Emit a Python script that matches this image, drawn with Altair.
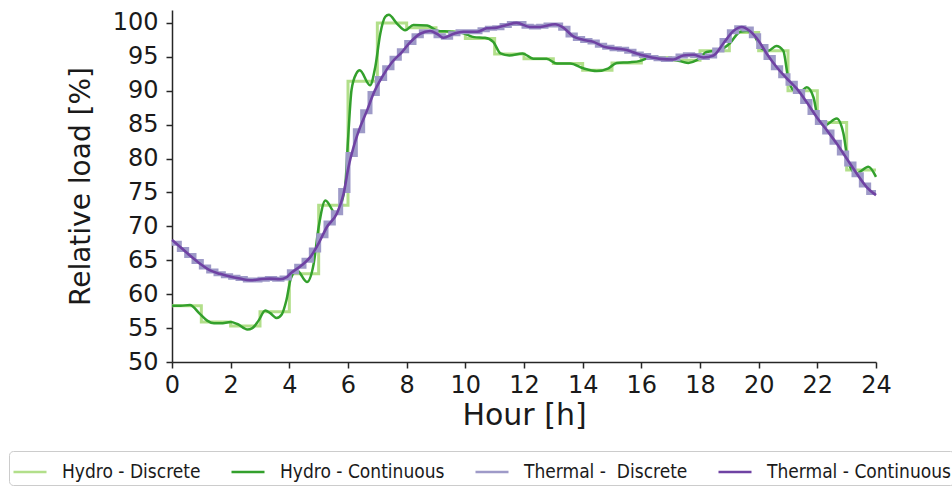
import altair as alt
import pandas as pd

# ---------------- data ----------------
series_names = ["Hydro - Discrete", "Hydro - Continuous", "Thermal -\u00a0 Discrete", "Thermal - Continuous"]
series_colors = ["#b2df8a", "#33a02c", "#9e9ac8", "#6f42a3"]

# hourly discrete hydro load (value held during each hour 0..23)
hydro_hours = list(range(24))
hydro_discrete = [58.3, 55.9, 55.3, 57.4, 63.0, 73.1, 91.4, 100.0, 99.3, 98.7, 97.7, 95.4,
                  94.7, 94.0, 93.0, 94.1, 94.9, 94.5, 95.9, 98.6, 95.9, 90.0, 85.3, 78.3]

# continuous hydro curve, sampled points
hydro_cont_t = [0.0, 0.3, 0.61, 0.95, 1.2, 1.43, 1.66, 2.0, 2.23, 2.57, 2.74, 2.95, 3.18, 3.35,
                3.57, 3.74, 3.9, 4.05, 4.26, 4.6, 4.83, 5.0, 5.23, 5.58, 5.9, 6.0, 6.12, 6.28,
                6.4, 6.75, 6.93, 7.1, 7.27, 7.39, 7.67, 7.95, 8.23, 8.7, 9.07, 9.52, 9.98, 10.3,
                10.67, 10.95, 11.2, 11.5, 11.95, 12.32, 12.77, 13.12, 13.57, 14.02, 14.48, 14.88,
                15.16, 15.62, 15.96, 16.3, 16.75, 17.2, 17.6, 17.89, 18.23, 18.68, 19.02, 19.37,
                19.59, 19.88, 20.1, 20.33, 20.6, 20.84, 21.0, 21.18, 21.41, 21.64, 21.87, 22.04,
                22.26, 22.66, 22.89, 23.06, 23.34, 23.74, 24.0]
hydro_cont_v = [58.3, 58.3, 58.4, 57.1, 56.1, 55.7, 55.7, 55.9, 55.6, 54.8, 55.0, 56.1, 57.6, 57.2,
                56.5, 57.0, 59.1, 62.3, 63.5, 61.8, 64.5, 69.9, 73.8, 71.9, 75.8, 82.7, 90.1, 92.5,
                93.0, 90.8, 93.5, 98.4, 100.9, 101.2, 99.9, 98.9, 99.7, 99.6, 98.8, 98.7, 98.4, 97.9,
                97.8, 97.2, 95.5, 95.2, 95.5, 94.7, 94.7, 94.0, 94.0, 93.3, 92.9, 93.3,
                94.1, 94.2, 94.4, 94.9, 94.8, 94.5, 94.1, 94.5, 95.7, 96.0, 97.0, 98.7,
                98.8, 97.9, 96.2, 95.9, 96.6, 95.9, 92.0, 90.1, 89.8, 90.5, 89.0, 85.6,
                84.9, 85.9, 83.7, 79.3, 77.8, 78.8, 77.3]

# quarter-hour discrete thermal load (value held during each 15 min)
thermal_discrete = [67.5, 66.6, 65.7, 64.8, 64.0, 63.4, 63.0, 62.7,
                    62.5, 62.3, 62.1, 62.1, 62.2, 62.3, 62.2, 62.4,
                    63.3, 64.1, 65.0, 66.5, 68.6, 70.5, 72.0, 75.3,
                    80.6, 84.1, 86.9, 89.6, 91.8, 93.4, 94.8, 95.9,
                    97.1, 98.1, 98.7, 98.7, 98.1, 97.9, 98.4, 98.7,
                    98.7, 98.7, 99.0, 99.2, 99.3, 99.6, 99.9, 99.9,
                    99.5, 99.4, 99.5, 99.7, 99.7, 99.2, 98.2, 97.7,
                    97.4, 97.2, 96.7, 96.4, 96.2, 96.1, 95.8, 95.4,
                    95.2, 94.9, 94.7, 94.6, 94.7, 95.1, 95.3, 95.2,
                    94.9, 95.1, 96.0, 97.4, 98.7, 99.3, 99.1, 98.1,
                    96.5, 94.9, 93.4, 92.2, 91.1, 89.9, 88.4, 86.8,
                    85.3, 83.9, 82.4, 80.8, 79.2, 77.6, 76.1, 75.0]

# continuous thermal curve, sampled points
thermal_cont_t = [0.0, 0.27, 0.61, 0.95, 1.3, 1.64, 1.98, 2.32, 2.66, 3.0, 3.34, 3.68, 3.91, 4.03,
                  4.43, 4.72, 5.0, 5.28, 5.62, 5.85, 6.02, 6.19, 6.42, 6.65, 6.87, 7.16, 7.5, 7.84,
                  8.07, 8.46, 8.8, 9.03, 9.25, 9.6, 9.93, 10.4, 10.73, 11.07, 11.41, 11.75, 12.2,
                  12.55, 13.06, 13.34, 13.68, 14.02, 14.37, 14.71, 15.16, 15.5, 15.84, 16.18, 16.64,
                  17.09, 17.43, 17.77, 18.12, 18.46, 18.8, 19.14, 19.42, 19.7, 19.99, 20.27, 20.61,
                  20.96, 21.3, 21.64, 21.98, 22.32, 22.66, 23.0, 23.34, 23.68, 24.0]
thermal_cont_v = [68.0, 67.0, 65.7, 64.5, 63.5, 63.0, 62.6, 62.3, 62.05, 62.2, 62.3, 62.2, 62.5, 63.0,
                  64.3, 65.5, 67.5, 69.9, 71.9, 74.8, 78.8, 81.7, 84.7, 87.1, 89.6, 92.0, 94.2, 95.7,
                  96.9, 98.4, 98.8, 98.4, 97.8, 98.4, 98.7, 98.7, 99.2, 99.3, 99.7, 100.0, 99.4,
                  99.4, 99.8, 99.3, 98.0, 97.5, 97.2, 96.5, 96.2, 96.0, 95.5, 95.1, 94.7,
                  94.6, 95.2, 95.3, 94.9, 95.2, 97.0, 98.8, 99.4, 98.8, 97.4, 95.5, 93.5,
                  91.8, 90.3, 88.3, 86.1, 84.2, 82.2, 80.0, 77.8, 75.8, 74.6]

# ---------------- table ----------------
rows = []
for h, v in zip(hydro_hours, hydro_discrete):
    rows.append({"t": h, "v": v, "series": series_names[0]})
rows.append({"t": 24, "v": hydro_discrete[-1], "series": series_names[0]})
for t, v in zip(hydro_cont_t, hydro_cont_v):
    rows.append({"t": t, "v": v, "series": series_names[1]})
for i, v in enumerate(thermal_discrete):
    rows.append({"t": i / 4, "v": v, "series": series_names[2]})
rows.append({"t": 24, "v": thermal_discrete[-1], "series": series_names[2]})
for t, v in zip(thermal_cont_t, thermal_cont_v):
    rows.append({"t": t, "v": v, "series": series_names[3]})
df = pd.DataFrame(rows)

FONT = "DejaVu Sans"
LEG_FONT = "DejaVu Sans Condensed, Liberation Sans Narrow, DejaVu Sans"

x_enc = alt.X("t:Q",
              scale=alt.Scale(domain=[0, 24], nice=False, zero=False),
              axis=alt.Axis(values=list(range(0, 25, 2)), title="Hour [h]", grid=False,
                            labelFlush=False, labelPadding=5,
                            titleFontSize=30, titleY=38, titleBaseline="top"))
y_enc = alt.Y("v:Q",
              scale=alt.Scale(domain=[50, 101.9], nice=False, zero=False),
              axis=alt.Axis(values=list(range(50, 101, 5)), title="Relative load [%]", grid=False,
                            labelFlush=False, labelPadding=8,
                            titleX=-77, titleY=176, titleAngle=270))
color_enc = alt.Color("series:N",
                      scale=alt.Scale(domain=series_names, range=series_colors),
                      sort=series_names,
                      legend=alt.Legend(title=None, orient="none", legendX=-163, legendY=441,
                                        direction="horizontal", columns=4,
                                        symbolType="stroke", symbolSize=1089, symbolStrokeWidth=2.5,
                                        labelFont=LEG_FONT, labelFontSize=19, labelColor="#1a1a1a",
                                        labelOffset=14, columnPadding=25, labelLimit=500,
                                        padding=3, strokeColor="#cccccc", cornerRadius=4,
                                        fillColor="white"))

base = alt.Chart(df)


def layer(name, interp, width):
    return base.transform_filter(alt.datum.series == name).mark_line(
        interpolate=interp, strokeWidth=width
    ).encode(x=x_enc, y=y_enc, color=color_enc)


chart = alt.layer(
    layer(series_names[0], "step-after", 3),
    layer(series_names[1], "monotone", 2.5),
    layer(series_names[2], "step-after", 5),
    layer(series_names[3], "monotone", 2.6),
).properties(
    width=704, height=352,
    autosize="none",
    padding={"left": 172, "top": 10, "right": 76, "bottom": 124},
).configure_view(stroke=None).configure_axis(
    domainColor="#262626", domainWidth=1.5, tickColor="#262626", tickWidth=1.5, tickSize=6,
    labelFont=FONT, labelFontSize=24, labelColor="#1a1a1a",
    titleFont=FONT, titleFontSize=28, titleFontWeight="normal", titleColor="#1a1a1a",
)

chart.save("out.html", embed_options={"renderer": "svg", "actions": False})
